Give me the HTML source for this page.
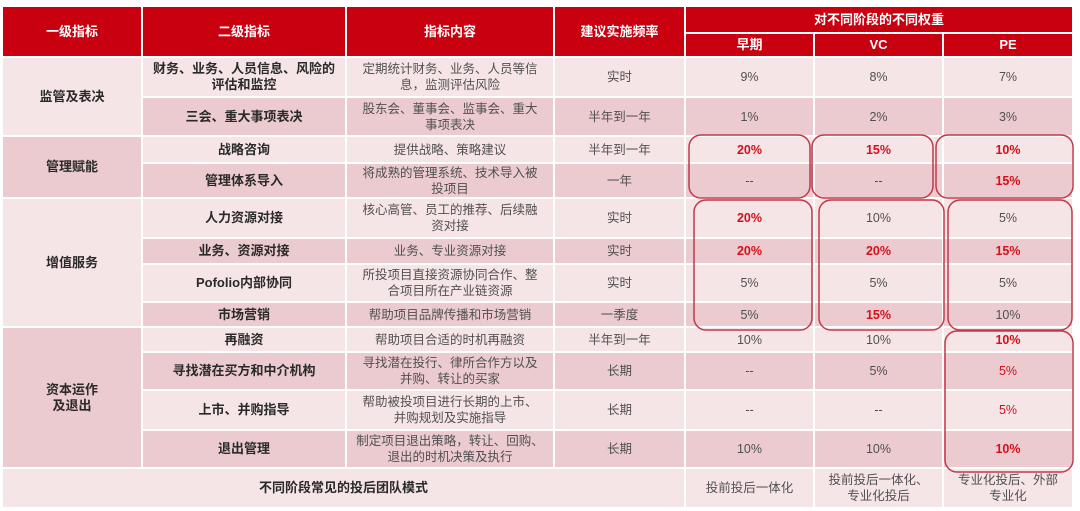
<!DOCTYPE html>
<html><head><meta charset="utf-8"><style>
body{margin:0;width:1080px;height:511px;background:#fff;overflow:hidden;position:relative;font-family:"Liberation Sans","Noto Sans CJK SC",sans-serif;}
table{position:absolute;left:1px;top:5px;border-collapse:separate;border-spacing:2px;table-layout:fixed;}
td{text-align:center;vertical-align:middle;padding:0;font-size:12.5px;color:#505050;line-height:16px;}
.h{background:#c8000f;color:#fff;font-weight:bold;font-size:13px;}
.L{background:#f6e5e7;}
.D{background:#ebcbcf;}
.b{font-weight:bold;color:#2a2a2a;font-size:13px;}
.r{color:#d3101c;font-weight:bold;}
.rn{color:#d3101c;}
svg{position:absolute;left:0;top:0;}
</style></head><body>
<table>
<colgroup><col style="width:138px"><col style="width:202px"><col style="width:206px"><col style="width:129px"><col style="width:127px"><col style="width:127px"><col style="width:128px"></colgroup>
<tr style="height:25px"><td class="h" rowspan="2">一级指标</td><td class="h" rowspan="2">二级指标</td><td class="h" rowspan="2">指标内容</td><td class="h" rowspan="2">建议实施频率</td><td class="h" colspan="3">对不同阶段的不同权重</td></tr>
<tr style="height:22px"><td class="h">早期</td><td class="h">VC</td><td class="h">PE</td></tr>
<tr style="height:38px"><td class="L b" rowspan="2">监管及表决</td><td class="L b">财务、业务、人员信息、风险的<br>评估和监控</td><td class="L">定期统计财务、业务、人员等信<br>息，监测评估风险</td><td class="L">实时</td><td class="L">9%</td><td class="L">8%</td><td class="L">7%</td></tr>
<tr style="height:37px"><td class="D b">三会、重大事项表决</td><td class="D">股东会、董事会、监事会、重大<br>事项表决</td><td class="D">半年到一年</td><td class="D">1%</td><td class="D">2%</td><td class="D">3%</td></tr>
<tr style="height:25px"><td class="D b" rowspan="2">管理赋能</td><td class="L b">战略咨询</td><td class="L">提供战略、策略建议</td><td class="L">半年到一年</td><td class="L r">20%</td><td class="L r">15%</td><td class="L r">10%</td></tr>
<tr style="height:33px"><td class="D b">管理体系导入</td><td class="D">将成熟的管理系统、技术导入被<br>投项目</td><td class="D">一年</td><td class="D">--</td><td class="D">--</td><td class="D r">15%</td></tr>
<tr style="height:38px"><td class="L b" rowspan="4">增值服务</td><td class="L b">人力资源对接</td><td class="L">核心高管、员工的推荐、后续融<br>资对接</td><td class="L">实时</td><td class="L r">20%</td><td class="L">10%</td><td class="L">5%</td></tr>
<tr style="height:24px"><td class="D b">业务、资源对接</td><td class="D">业务、专业资源对接</td><td class="D">实时</td><td class="D r">20%</td><td class="D r">20%</td><td class="D r">15%</td></tr>
<tr style="height:36px"><td class="L b">Pofolio内部协同</td><td class="L">所投项目直接资源协同合作、整<br>合项目所在产业链资源</td><td class="L">实时</td><td class="L">5%</td><td class="L">5%</td><td class="L">5%</td></tr>
<tr style="height:23px"><td class="D b">市场营销</td><td class="D">帮助项目品牌传播和市场营销</td><td class="D">一季度</td><td class="D">5%</td><td class="D r">15%</td><td class="D">10%</td></tr>
<tr style="height:23px"><td class="D b" rowspan="4">资本运作<br>及退出</td><td class="L b">再融资</td><td class="L">帮助项目合适的时机再融资</td><td class="L">半年到一年</td><td class="L">10%</td><td class="L">10%</td><td class="L r">10%</td></tr>
<tr style="height:36px"><td class="D b">寻找潜在买方和中介机构</td><td class="D">寻找潜在投行、律所合作方以及<br>并购、转让的买家</td><td class="D">长期</td><td class="D">--</td><td class="D">5%</td><td class="D rn">5%</td></tr>
<tr style="height:38px"><td class="L b">上市、并购指导</td><td class="L">帮助被投项目进行长期的上市、<br>并购规划及实施指导</td><td class="L">长期</td><td class="L">--</td><td class="L">--</td><td class="L rn">5%</td></tr>
<tr style="height:36px"><td class="D b">退出管理</td><td class="D">制定项目退出策略，转让、回购、<br>退出的时机决策及执行</td><td class="D">长期</td><td class="D">10%</td><td class="D">10%</td><td class="D r">10%</td></tr>
<tr style="height:38px"><td class="L b" colspan="4">不同阶段常见的投后团队模式</td><td class="L">投前投后一体化</td><td class="L">投前投后一体化、<br>专业化投后</td><td class="L">专业化投后、外部<br>专业化</td></tr>
</table>
<svg width="1080" height="511" fill="none" stroke="#c0394a" stroke-width="1.5">
<rect x="689" y="135" width="121" height="63" rx="12"/>
<rect x="812" y="135" width="121" height="63" rx="12"/>
<rect x="936" y="135" width="137" height="63" rx="12"/>
<rect x="694" y="200" width="118" height="130" rx="12"/>
<rect x="819" y="200" width="125" height="130" rx="12"/>
<rect x="948" y="200" width="124" height="130" rx="12"/>
<rect x="945" y="331" width="128" height="141" rx="12"/>
</svg>
</body></html>
